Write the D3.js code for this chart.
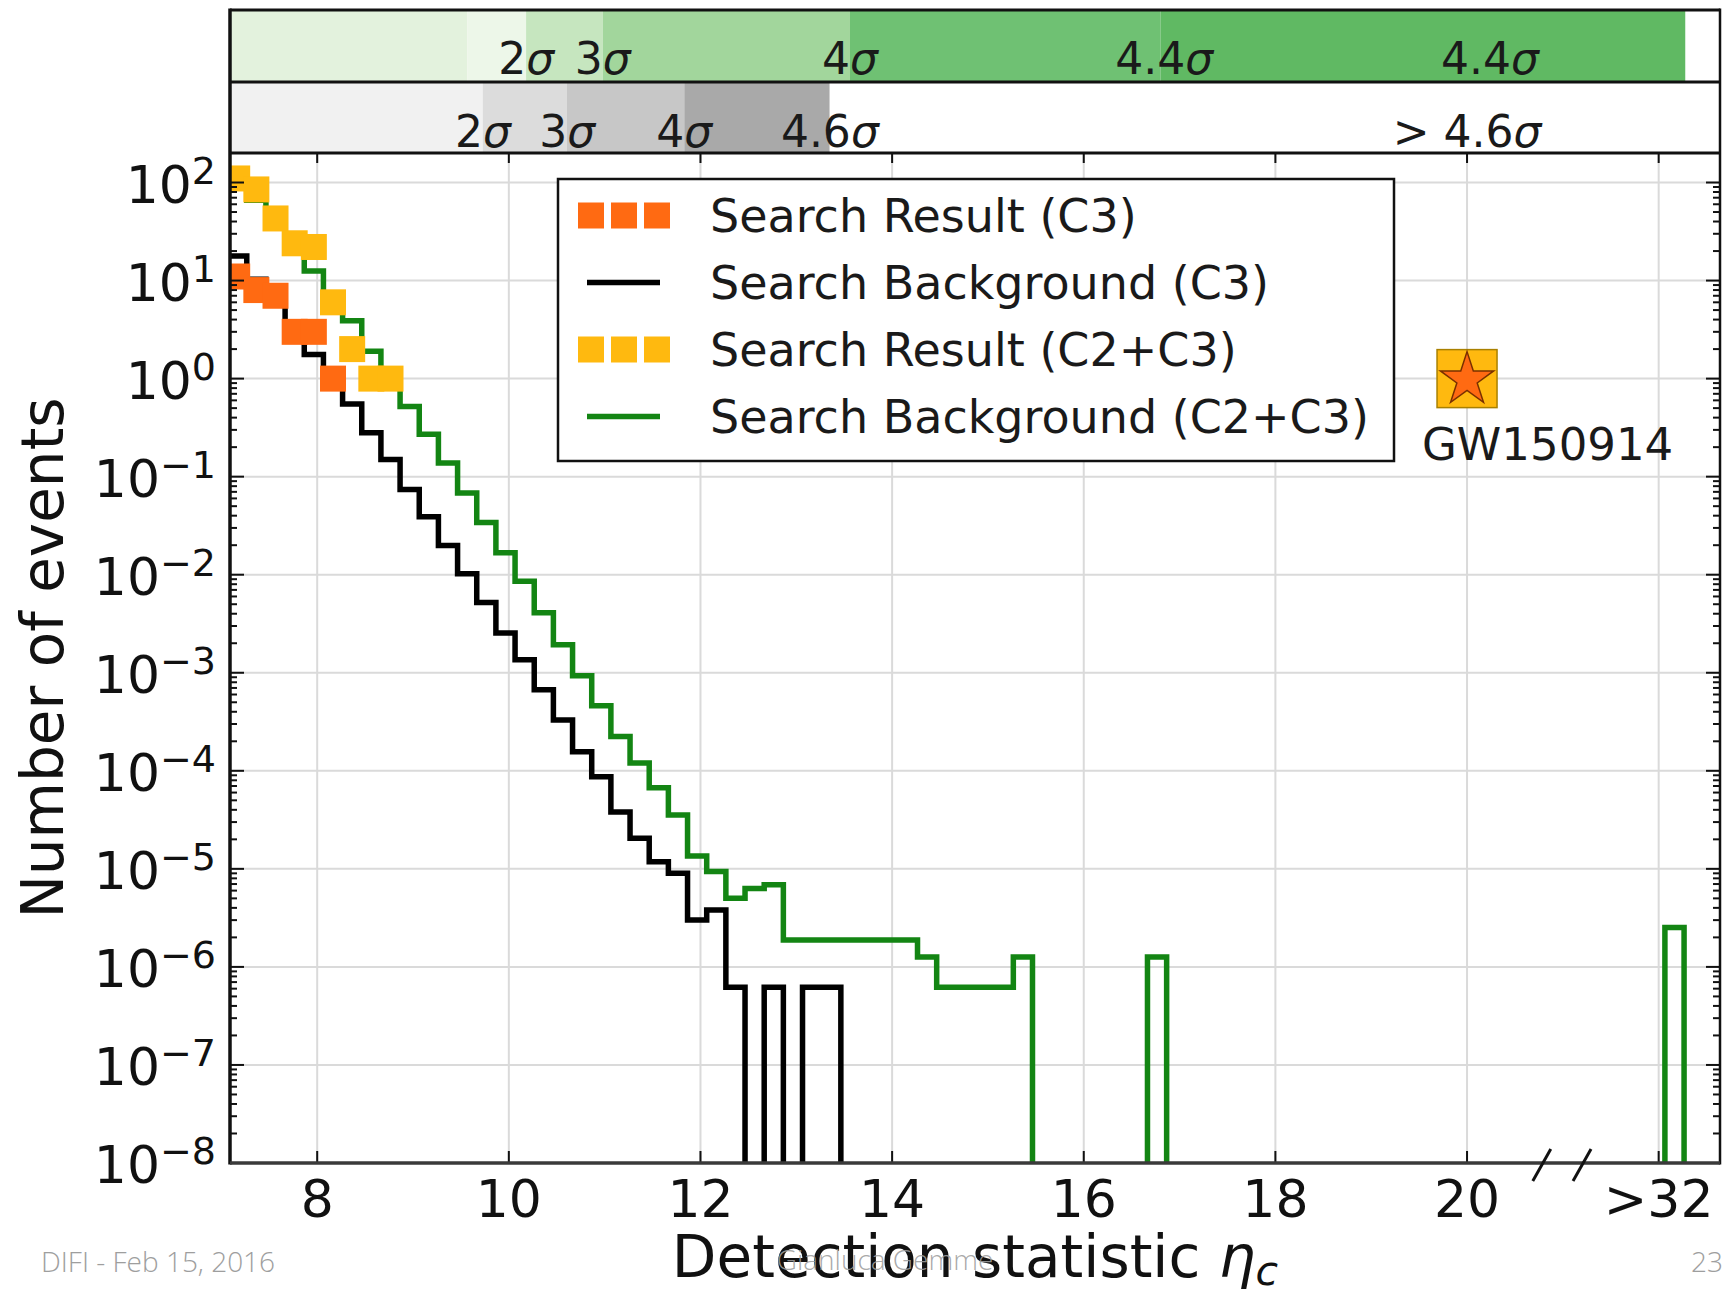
<!DOCTYPE html>
<html>
<head>
<meta charset="utf-8">
<script src="https://cdn.jsdelivr.net/npm/d3@7"></script>
<style>
  html, body { margin: 0; padding: 0; background: #fff; }
  svg { display: block; }
</style>
</head>
<body>
<div id="chart"></div>
<script>
// histogram binning: lower edge of the first bin, bin width (in eta_c)
var binStart = 7.065;
var binWidth = 0.2;

// Search Result (C3), events per bin
var resultC3 = [11, 8, 7, 3, 3, 1];
// Search Result (C2+C3), events per bin
var resultC2C3 = [110, 85, 43, 24, 22, 6, 2, 1, 1];
// Search Background (C3)
var backgroundC3 = [17.8, 10.3, 6.4, 2.8, 1.76, 0.9, 0.55, 0.28, 0.15, 0.074,
  0.039, 0.0198, 0.0102, 0.0052, 0.00254, 0.00136, 0.00067, 0.00033, 0.000156, 8.7e-5,
  3.8e-5, 2.05e-5, 1.18e-5, 9.0e-6, 3.0e-6, 3.8e-6, 6.2e-7, 0, 6.2e-7, 0,
  6.2e-7, 6.2e-7];
// Search Background (C2+C3)
var backgroundC2C3 = [100, 66, 35, 20, 12.5, 5.8, 3.9, 1.9, 0.87, 0.52,
  0.27, 0.138, 0.068, 0.034, 0.0167, 0.0086, 0.0041, 0.00193, 0.00093, 0.00046,
  0.000224, 0.00012, 6.7e-5, 3.55e-5, 1.35e-5, 9.4e-6, 5.0e-6, 6.3e-6, 6.9e-6, 1.88e-6,
  1.88e-6, 1.88e-6, 1.88e-6, 1.88e-6, 1.88e-6, 1.88e-6, 1.26e-6, 6.2e-7, 6.2e-7, 6.2e-7,
  6.2e-7, 1.26e-6, 0, 0, 0, 0, 0, 0, 1.26e-6];
// overflow bin (eta_c > 32) shown after the axis break
var overflowBin = [22.065, 22.265];
var overflowC2C3 = 2.52e-6;

// GW150914
var gwEvent = { x: 20, y: 1, label: "GW150914" };

// axes
var xTicks = [8, 10, 12, 14, 16, 18, 20, 22];
var xTickLabels = ["8", "10", "12", "14", "16", "18", "20", ">32"];
var yExponents = [2, 1, 0, -1, -2, -3, -4, -5, -6, -7, -8];
var axisBreak = [20.78, 21.2];

// significance bands (upper: C2+C3, lower: C3)
var greenEdges = [9.568, 10.18, 10.98, 13.56, 16.8, 22.28];
var greenLabelX = [10.18, 10.98, 13.56, 16.84, 20.24];
var greenLabels = ["2", "3", "4", "4.4", "4.4"];
var grayEdges = [9.728, 10.607, 11.831, 13.349];
var grayLabelX = [9.73, 10.61, 11.83, 13.35, 20.0];
var grayLabels = ["2", "3", "4", "4.6", "> 4.6"];

var legendItems = ["Search Result (C3)", "Search Background (C3)",
  "Search Result (C2+C3)", "Search Background (C2+C3)"];

var greenShades = ["#e3f2dd", "#edf7e9", "#c6e6bf", "#a2d69c", "#6fc173", "#60b963", "#ffffff"];
var grayShades = ["#f1f1f1", "#dcdcdc", "#c7c7c7", "#a9a9a9", "#ffffff"];

var orange = "#ff6a12";
var yellow = "#ffb90f";
var green = "#138513";
var font = "'DejaVu Sans', sans-serif";

var W = 1732, H = 1295;
var plotL = 230, plotR = 1720, plotT = 153, plotB = 1163;
var bandT = 10, bandM = 82;

var x = d3.scaleLinear().domain([7.09, 22.64]).range([plotL, plotR]);
var y = d3.scaleLog().domain([1e-8, 200]).range([plotB, plotT]);

var svg = d3.select("#chart").append("svg")
  .attr("width", W).attr("height", H)
  .style("background", "#fff");

// ---- significance bands
function drawBand(edges, shades, y0, y1) {
  var bounds = [x.domain()[0]].concat(edges).concat([x.domain()[1]]);
  svg.append("g").selectAll("rect")
    .data(d3.pairs(bounds))
    .join("rect")
    .attr("x", function (d) { return x(d[0]); })
    .attr("y", y0)
    .attr("width", function (d) { return x(d[1]) - x(d[0]); })
    .attr("height", y1 - y0)
    .attr("fill", function (d, i) { return shades[i]; });
}
drawBand(greenEdges, greenShades, bandT, bandM);
drawBand(grayEdges, grayShades, bandM, plotT);

function sigmaLabel(xs, labels, baseline) {
  var t = svg.append("g").selectAll("text")
    .data(labels)
    .join("text")
    .attr("x", function (d, i) { return x(xs[i]); })
    .attr("y", baseline)
    .attr("text-anchor", "middle")
    .attr("font-family", font)
    .attr("font-size", 44)
    .attr("fill", "#1a1a1a");
  t.append("tspan").text(function (d) { return d; });
  t.append("tspan").attr("font-style", "italic").text("\u03c3");
}
sigmaLabel(greenLabelX, greenLabels, 74);
sigmaLabel(grayLabelX, grayLabels, 147);

// ---- grid
var grid = svg.append("g").attr("stroke", "#dadada").attr("stroke-width", 2);
grid.selectAll("line.v").data(xTicks).join("line")
  .attr("x1", function (d) { return x(d); }).attr("x2", function (d) { return x(d); })
  .attr("y1", plotT).attr("y2", plotB);
grid.selectAll("line.h").data(yExponents.slice(0, -1)).join("line")
  .attr("x1", plotL).attr("x2", plotR)
  .attr("y1", function (d) { return y(Math.pow(10, d)); })
  .attr("y2", function (d) { return y(Math.pow(10, d)); });

// ---- histograms
svg.append("clipPath").attr("id", "plotClip")
  .append("rect").attr("x", plotL).attr("y", plotT)
  .attr("width", plotR - plotL).attr("height", plotB - plotT);

var floorVal = 1e-9;
function stepPoints(vals, start, width) {
  var pts = [[start, floorVal]];
  vals.forEach(function (v, i) {
    var vv = v > 0 ? v : floorVal;
    pts.push([start + i * width, vv]);
    pts.push([start + (i + 1) * width, vv]);
  });
  pts.push([start + vals.length * width, floorVal]);
  return pts;
}
var line = d3.line()
  .x(function (d) { return x(d[0]); })
  .y(function (d) { return y(d[1]); });

var hist = svg.append("g").attr("clip-path", "url(#plotClip)");
hist.append("path")
  .attr("d", line(stepPoints(backgroundC3, binStart, binWidth)))
  .attr("fill", "none").attr("stroke", "#000").attr("stroke-width", 5.5);
hist.append("path")
  .attr("d", line(stepPoints(backgroundC2C3, binStart, binWidth)))
  .attr("fill", "none").attr("stroke", green).attr("stroke-width", 5.5);
hist.append("path")
  .attr("d", line(stepPoints([overflowC2C3], overflowBin[0], overflowBin[1] - overflowBin[0])))
  .attr("fill", "none").attr("stroke", green).attr("stroke-width", 5.5);

var sq = 26;
function markers(vals, color) {
  hist.append("g").selectAll("rect")
    .data(vals)
    .join("rect")
    .attr("x", function (d, i) { return x(binStart + (i + 0.5) * binWidth) - sq / 2; })
    .attr("y", function (d) { return y(d) - sq / 2; })
    .attr("width", sq).attr("height", sq)
    .attr("fill", color);
}
markers(resultC3, orange);
markers(resultC2C3, yellow);

// GW150914 marker
var gx = x(gwEvent.x), gy = y(gwEvent.y);
svg.append("rect")
  .attr("x", gx - 30).attr("y", gy - 29).attr("width", 60).attr("height", 58)
  .attr("fill", yellow).attr("stroke", "#a98000").attr("stroke-width", 1.5);
svg.append("path")
  .attr("d", d3.symbol(d3.symbolStar, 880)())
  .attr("transform", "translate(" + gx + "," + (gy + 1) + ")")
  .attr("fill", orange).attr("stroke", "#7a3000").attr("stroke-width", 1.5);
svg.append("text")
  .attr("x", x(gwEvent.x - 0.47)).attr("y", 460)
  .attr("font-family", font).attr("font-size", 45).attr("fill", "#1a1a1a")
  .text(gwEvent.label);

// ---- ticks
var ticks = svg.append("g").attr("stroke", "#111").attr("stroke-width", 2);
var minor = [];
yExponents.forEach(function (e) {
  if (e >= 2) return;
  for (var m = 2; m <= 9; m++) minor.push(m * Math.pow(10, e));
});
minor = minor.filter(function (v) { return v < 200; });
[plotL, plotR].forEach(function (sx) {
  var dir = sx === plotL ? 1 : -1;
  ticks.append("g").selectAll("line").data(yExponents).join("line")
    .attr("x1", sx).attr("x2", sx + dir * 14)
    .attr("y1", function (d) { return y(Math.pow(10, d)); })
    .attr("y2", function (d) { return y(Math.pow(10, d)); });
  ticks.append("g").selectAll("line").data(minor).join("line")
    .attr("x1", sx).attr("x2", sx + dir * 7)
    .attr("y1", function (d) { return y(d); })
    .attr("y2", function (d) { return y(d); });
});
ticks.append("g").selectAll("line").data(xTicks).join("line")
  .attr("x1", function (d) { return x(d); }).attr("x2", function (d) { return x(d); })
  .attr("y1", plotB).attr("y2", plotB - 12);
ticks.append("g").selectAll("line").data(xTicks).join("line")
  .attr("x1", function (d) { return x(d); }).attr("x2", function (d) { return x(d); })
  .attr("y1", plotT).attr("y2", plotT + 10);

// ---- legend
var lg = svg.append("g");
lg.append("rect").attr("x", 558).attr("y", 179).attr("width", 836).attr("height", 282)
  .attr("fill", "#fff").attr("stroke", "#111").attr("stroke-width", 2.5);
legendItems.forEach(function (name, i) {
  var cy = 215.5 + i * 67;
  if (i % 2 === 0) {
    [0, 1, 2].forEach(function (k) {
      lg.append("rect").attr("x", 578 + k * 33).attr("y", cy - 13)
        .attr("width", 26).attr("height", 26)
        .attr("fill", i === 0 ? orange : yellow);
    });
  } else {
    lg.append("line").attr("x1", 587).attr("x2", 660).attr("y1", cy).attr("y2", cy)
      .attr("stroke", i === 1 ? "#000" : green).attr("stroke-width", 5.5);
  }
  lg.append("text").attr("x", 710).attr("y", cy + 16.5)
    .attr("font-family", font).attr("font-size", 46).attr("fill", "#1a1a1a")
    .text(name);
});

// ---- frame
var frame = svg.append("g").attr("stroke", "#111");
frame.append("line").attr("x1", plotL).attr("x2", plotL).attr("y1", bandT - 1.5).attr("y2", plotB + 1.5).attr("stroke-width", 3.5);
frame.append("line").attr("x1", plotR).attr("x2", plotR).attr("y1", bandT - 1.5).attr("y2", plotB + 1.5).attr("stroke-width", 2.5);
[bandT, bandM, plotT].forEach(function (yy) {
  frame.append("line").attr("x1", plotL).attr("x2", plotR).attr("y1", yy).attr("y2", yy).attr("stroke-width", 3);
});
frame.append("line").attr("x1", plotL).attr("x2", plotR).attr("y1", plotB).attr("y2", plotB)
  .attr("stroke", "#3a3a3a").attr("stroke-width", 3.5);

// axis break marks
svg.append("g").selectAll("line").data(axisBreak).join("line")
  .attr("x1", function (d) { return x(d) - 9; }).attr("y1", plotB + 18)
  .attr("x2", function (d) { return x(d) + 9; }).attr("y2", plotB - 14)
  .attr("stroke", "#111").attr("stroke-width", 3);

// ---- tick labels
svg.append("g").selectAll("text").data(xTicks).join("text")
  .attr("x", function (d) { return x(d); }).attr("y", 1217)
  .attr("text-anchor", "middle")
  .attr("font-family", font).attr("font-size", 52).attr("fill", "#111")
  .text(function (d, i) { return xTickLabels[i]; });

var yl = svg.append("g").selectAll("text").data(yExponents).join("text")
  .attr("x", 216).attr("y", function (d) { return y(Math.pow(10, d)) + 20; })
  .attr("text-anchor", "end")
  .attr("font-family", font).attr("font-size", 52).attr("fill", "#111");
yl.append("tspan").text("10");
yl.append("tspan").attr("dy", -19).attr("font-size", 38)
  .text(function (d) { return d < 0 ? "\u2212" + (-d) : String(d); });

// ---- axis titles
svg.append("text")
  .attr("transform", "translate(63," + ((plotT + plotB) / 2) + ") rotate(-90)")
  .attr("text-anchor", "middle")
  .attr("font-family", font).attr("font-size", 58).attr("fill", "#111")
  .text("Number of events");
var xt = svg.append("text")
  .attr("x", (plotL + plotR) / 2).attr("y", 1277)
  .attr("text-anchor", "middle")
  .attr("font-family", font).attr("font-size", 58).attr("fill", "#111");
xt.append("tspan").text("Detection statistic ");
xt.append("tspan").attr("font-style", "italic").text("\u03b7");
xt.append("tspan").attr("font-style", "italic").attr("font-size", 41).attr("dy", 8).text("c");

// ---- slide footer
var foot = svg.append("g").attr("font-family", "'Open Sans', sans-serif")
  .attr("font-weight", 300).attr("font-size", 28).attr("fill", "#9e9e9e");
foot.append("text").attr("x", 41).attr("y", 1272).text("DIFI - Feb 15, 2016");
foot.append("text").attr("x", 885).attr("y", 1270).attr("text-anchor", "middle")
  .attr("fill-opacity", 0.9).text("Gianluca Gemme");
foot.append("text").attr("x", 1723).attr("y", 1272).attr("text-anchor", "end").text("23");
</script>
</body>
</html>
